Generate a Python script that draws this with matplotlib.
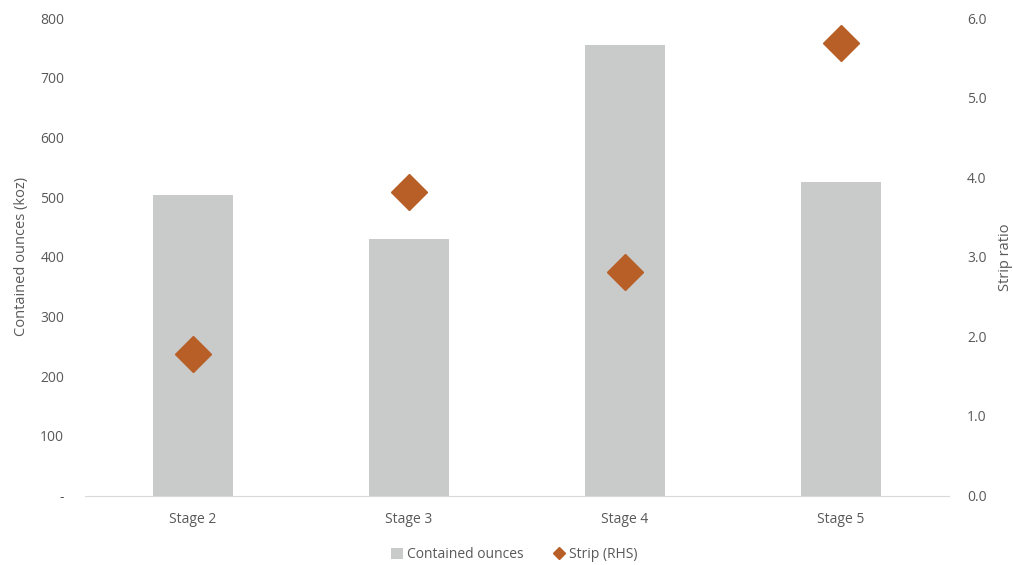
import matplotlib
matplotlib.use("Agg")
import matplotlib.pyplot as plt
from matplotlib.patches import Patch
from matplotlib.lines import Line2D
import numpy as np

categories = ["Stage 2", "Stage 3", "Stage 4", "Stage 5"]
contained_ounces = [503, 430, 755, 525]
strip_ratio = [1.78, 3.82, 2.81, 5.69]
left_ticks = [0, 100, 200, 300, 400, 500, 600, 700, 800]
left_labels = ["-", "100", "200", "300", "400", "500", "600", "700", "800"]
right_ticks = [0, 1, 2, 3, 4, 5, 6]
right_labels = ["0.0", "1.0", "2.0", "3.0", "4.0", "5.0", "6.0"]

bar_color = "#C9CBCA"
diamond_color = "#B85F27"
text_color = "#595959"

plt.rcParams['font.family'] = ['Open Sans', 'DejaVu Sans']
plt.rcParams['font.size'] = 10

fig = plt.figure(figsize=(10.13, 5.65), dpi=100)
ax = fig.add_axes([0.0839, 0.123, 0.8531, 0.8446])
x = np.arange(len(categories))
ax.bar(x, contained_ounces, width=0.37, color=bar_color, zorder=2)
ax.set_xlim(-0.5, len(categories) - 0.5)
ax.set_ylim(0, 800)
ax.set_yticks(left_ticks)
ax.set_yticklabels(left_labels)
ax.set_xticks(x)
ax.set_xticklabels(categories)
ax.set_ylabel("Contained ounces (koz)", color=text_color, fontsize=10.5, labelpad=8)
for s in ["top", "right", "left"]:
    ax.spines[s].set_visible(False)
ax.spines["bottom"].set_color("#D9D9D9")
ax.tick_params(axis="both", length=0, colors=text_color, labelsize=10)
ax.tick_params(axis="y", pad=15)
ax.tick_params(axis="x", pad=12)

ax2 = ax.twinx()
ax2.plot(x, strip_ratio, linestyle="none", marker="D", markersize=18.5,
         color=diamond_color, zorder=3)
ax2.set_ylim(0, 6)
ax2.set_yticks(right_ticks)
ax2.set_yticklabels(right_labels)
ax2.set_ylabel("Strip ratio", color=text_color, fontsize=10.5, labelpad=8)
for s in ["top", "right", "left", "bottom"]:
    ax2.spines[s].set_visible(False)
ax2.tick_params(axis="y", length=0, colors=text_color, labelsize=10, pad=13)

handles = [Patch(facecolor=bar_color, edgecolor="none"),
           Line2D([], [], linestyle="none", marker="D", markersize=6, color=diamond_color)]
labels = ["Contained ounces", "Strip (RHS)"]
leg = fig.legend(handles, labels, loc="center", bbox_to_anchor=(0.508, 0.018),
                 ncol=2, frameon=False, handlelength=0.8, handleheight=0.8,
                 handletextpad=0.3, columnspacing=2.2, fontsize=10)
for t in leg.get_texts():
    t.set_color(text_color)

fig.savefig("out.png", dpi=100)
